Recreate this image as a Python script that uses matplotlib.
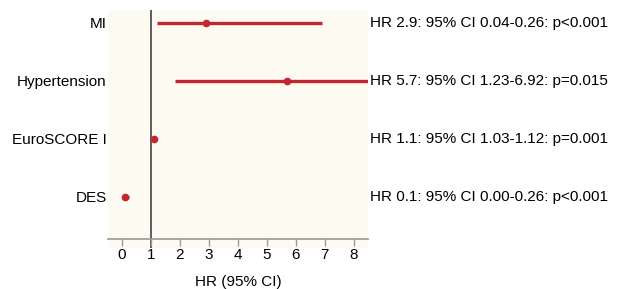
import matplotlib
matplotlib.use("Agg")
import matplotlib.pyplot as plt

# data
labels = ['MI', 'Hypertension', 'EuroSCORE I', 'DES']
hr = [2.9, 5.7, 1.1, 0.1]
ci_low = [1.2, 1.82, 1.03, 0.0]
ci_high = [6.92, 8.6, 1.12, 0.26]
notes = ['HR 2.9: 95% CI 0.04-0.26: p<0.001',
         'HR 5.7: 95% CI 1.23-6.92: p=0.015',
         'HR 1.1: 95% CI 1.03-1.12: p=0.001',
         'HR 0.1: 95% CI 0.00-0.26: p<0.001']
xticks = [0, 1, 2, 3, 4, 5, 6, 7, 8]

plt.rcParams['font.family'] = ['Liberation Sans', 'DejaVu Sans']
red = '#c4262e'
fs = 11

fig = plt.figure(figsize=(6.27, 2.89), dpi=100)
ax = fig.add_axes([0.1722, 0.142, 0.415, 0.823])
ax.set_facecolor('#fdfbf1')

ys = list(range(len(labels)))
ax.axvline(1, color='#333333', lw=1.1, zorder=1)
for y, h, lo, hi in zip(ys, hr, ci_low, ci_high):
    ax.plot([lo, hi], [y, y], color=red, lw=2.4, solid_capstyle='butt', zorder=2)
    ax.plot(h, y, marker='o', ms=4.5, color=red, zorder=3)

ax.set_xlim(-0.48, 8.5)
ax.set_ylim(3.88, -0.22)

ax.set_yticks(ys)
ax.set_yticklabels(labels, fontsize=fs)
ax.tick_params(axis='y', length=0, pad=1)

ax.set_xticks(xticks)
ax.tick_params(axis='x', length=5, width=1, color='#999999', labelsize=fs, pad=2)
ax.set_xlabel('HR (95% CI)', fontsize=fs, labelpad=9)

for s in ['top', 'right', 'left']:
    ax.spines[s].set_visible(False)
ax.spines['bottom'].set_position(('data', 3.72))
ax.spines['bottom'].set_color('#999999')
ax.spines['bottom'].set_linewidth(1.2)

tr = ax.get_yaxis_transform()
for y, t in zip(ys, notes):
    ax.text(1.007, y, t, transform=tr, ha='left', va='center', fontsize=fs)

fig.savefig('out.png', dpi=100)
